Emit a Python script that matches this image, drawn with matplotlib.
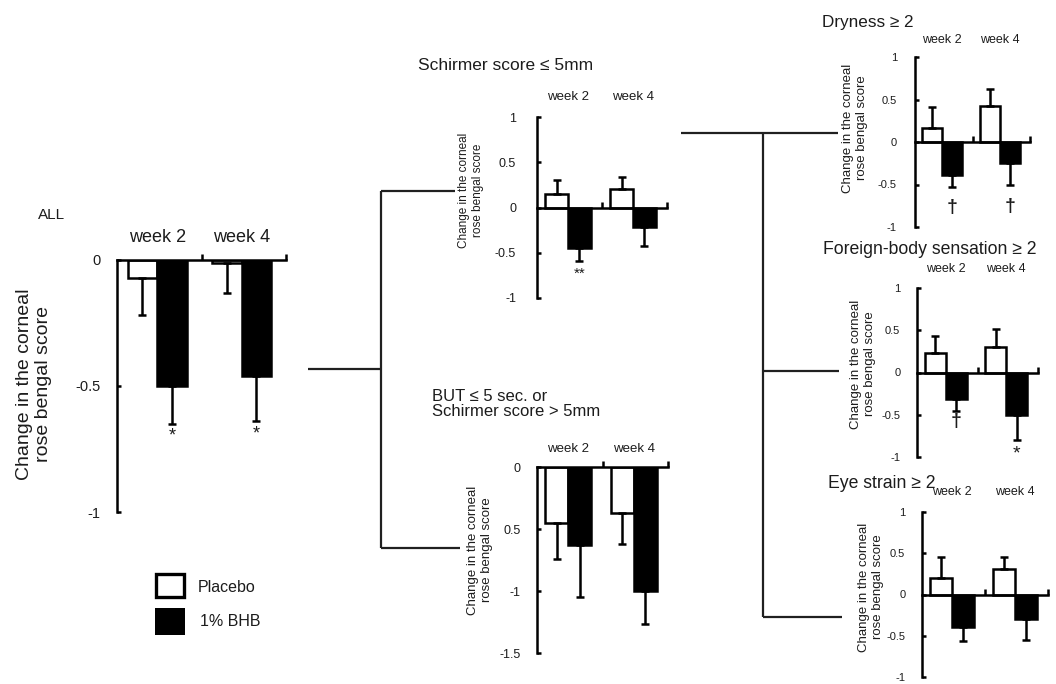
import matplotlib
matplotlib.use('Agg')
import matplotlib.pyplot as plt
import matplotlib.transforms as mtransforms
from matplotlib.lines import Line2D
from matplotlib.patches import Rectangle

W, H = 1056, 684
plt.rcParams['font.family'] = ['Liberation Sans', 'DejaVu Sans']
plt.rcParams['axes.unicode_minus'] = False
TXT = '#1c1c1c'

# ---------------- data ----------------
weeks = ['week 2', 'week 4']
groups = ['Placebo', '1% BHB']
ylabel = 'Change in the corneal\nrose bengal score'

all_title = 'ALL'
all_placebo = [-0.07, -0.01]
all_placebo_err = [0.15, 0.12]
all_bhb = [-0.50, -0.46]
all_bhb_err = [0.15, 0.18]
all_marks = ['*', '*']

schirmer_title = 'Schirmer score ≤ 5mm'
schirmer_placebo = [0.15, 0.20]
schirmer_placebo_err = [0.15, 0.14]
schirmer_bhb = [-0.45, -0.22]
schirmer_bhb_err = [0.14, 0.21]
schirmer_marks = ['**', '']

but_title = 'BUT ≤ 5 sec. or\nSchirmer score > 5mm'
but_placebo = [-0.45, -0.37]
but_placebo_err = [0.29, 0.25]
but_bhb = [-0.63, -1.00]
but_bhb_err = [0.42, 0.27]
but_marks = ['', '']
but_yticks = [0, -0.5, -1, -1.5]
but_yticklabels = ['0', '0.5', '-1', '-1.5']

dry_title = 'Dryness ≥ 2'
dry_placebo = [0.17, 0.42]
dry_placebo_err = [0.24, 0.20]
dry_bhb = [-0.39, -0.25]
dry_bhb_err = [0.14, 0.26]
dry_marks = ['†', '†']

fb_title = 'Foreign-body sensation ≥ 2'
fb_placebo = [0.23, 0.30]
fb_placebo_err = [0.20, 0.22]
fb_bhb = [-0.31, -0.50]
fb_bhb_err = [0.14, 0.30]
fb_marks = ['†', '*']

eye_title = 'Eye strain ≥ 2'
eye_placebo = [0.20, 0.31]
eye_placebo_err = [0.25, 0.15]
eye_bhb = [-0.39, -0.30]
eye_bhb_err = [0.17, 0.25]
eye_marks = ['', '']

sym_yticks = [1, 0.5, 0, -0.5, -1]
sym_yticklabels = ['1', '0.5', '0', '-0.5', '-1']
all_yticks = [0, -0.5, -1]
all_yticklabels = ['0', '-0.5', '-1']

# ---------------- figure ----------------
fig = plt.figure(figsize=(W / 100, H / 100), dpi=100)
fig.patch.set_facecolor('white')


def px_axes(x0, x1, ytop, ybot):
    return fig.add_axes([x0 / W, 1 - ybot / H, (x1 - x0) / W, (ybot - ytop) / H])


def ftext(x, y, s, **kw):
    kw.setdefault('color', TXT)
    fig.text(x / W, 1 - y / H, s, **kw)


def fline(xs, ys, lw=1.6):
    fig.add_artist(Line2D([x / W for x in xs], [1 - y / H for y in ys],
                          transform=fig.transFigure, color='#202020', lw=lw,
                          solid_capstyle='butt'))


XP = [0.6, 2.6]
XB = [1.3, 3.3]
BW = 0.7
LW = 1.8


def draw_panel(ax, placebo, placebo_err, bhb, bhb_err, marks, ylim, yticks,
               yticklabels, tick_fs, pad, week_fs, week_y, mark_fs, mark_off):
    ax.bar(XP, placebo, width=BW, facecolor='white', edgecolor='black',
           linewidth=LW, zorder=2)
    ax.bar(XB, bhb, width=BW, facecolor='black', edgecolor='black',
           linewidth=LW, zorder=2)
    for xs, vals, errs in ((XP, placebo, placebo_err), (XB, bhb, bhb_err)):
        lower = [e if v < 0 else 0 for v, e in zip(vals, errs)]
        upper = [e if v >= 0 else 0 for v, e in zip(vals, errs)]
        ax.errorbar(xs, vals, yerr=[lower, upper], fmt='none', ecolor='black',
                    elinewidth=LW, capsize=3, capthick=LW, zorder=3)
    for x, v, e, m in zip(XB, bhb, bhb_err, marks):
        if m:
            off = mark_off + (2 if m.startswith('*') else 0)
            ax.annotate(m, xy=(x, v - e), xytext=(0, -off),
                        textcoords='offset points', ha='center', va='center',
                        fontsize=mark_fs, color=TXT, annotation_clip=False,
                        fontweight='bold' if m == '†' else 'normal')
    ax.set_xlim(0, 4)
    ax.set_ylim(*ylim)
    for s in ('top', 'right'):
        ax.spines[s].set_visible(False)
    ax.spines['bottom'].set_position(('data', 0))
    ax.spines['bottom'].set_linewidth(LW)
    ax.spines['left'].set_linewidth(LW)
    ax.set_facecolor('none')
    ax.set_xticks([2, 4])
    ax.set_xticklabels([])
    ax.tick_params(axis='x', direction='in', length=4, width=LW)
    ax.set_yticks(yticks)
    ax.set_yticklabels(yticklabels)
    ax.tick_params(axis='y', direction='in', length=3, width=LW,
                   labelsize=tick_fs, pad=pad, labelcolor=TXT)
    trans = mtransforms.blended_transform_factory(ax.transData, fig.transFigure)
    for cx, wk in zip([0.95, 2.95], weeks):
        ax.text(cx, 1 - week_y / H, wk, transform=trans, ha='center',
                va='center', fontsize=week_fs, color=TXT)


# ALL panel
ax = px_axes(117, 286, 260, 512)
draw_panel(ax, all_placebo, all_placebo_err, all_bhb, all_bhb_err, all_marks,
           (-1, 0), all_yticks, all_yticklabels, 10.5, 12, 13, 237, 13, 7)
ftext(38, 215, all_title, fontsize=11, ha='left', va='center')
ftext(34, 384, ylabel, fontsize=14, rotation=90, ha='center', va='center',
      multialignment='center', linespacing=1.2)

# Schirmer panel
ax = px_axes(537, 667, 117, 298)
draw_panel(ax, schirmer_placebo, schirmer_placebo_err, schirmer_bhb,
           schirmer_bhb_err, schirmer_marks, (-1, 1), sym_yticks,
           sym_yticklabels, 9, 15, 9.5, 97, 11, 7)
ftext(418, 65, schirmer_title, fontsize=12.5, ha='left', va='center')
ftext(471, 190, ylabel, fontsize=8.5, rotation=90, ha='center', va='center',
      multialignment='center', linespacing=1.15)

# BUT panel
ax = px_axes(537, 668, 467, 653)
draw_panel(ax, but_placebo, but_placebo_err, but_bhb, but_bhb_err, but_marks,
           (-1.5, 0), but_yticks, but_yticklabels, 9, 12, 9.5, 449, 9, 6)
ftext(432, 404, but_title, fontsize=12, ha='left', va='center',
      linespacing=0.98)
ftext(480, 550, ylabel, fontsize=9.5, rotation=90, ha='center', va='center',
      multialignment='center', linespacing=1.15)

# Dryness panel
ax = px_axes(915, 1030, 57, 227)
draw_panel(ax, dry_placebo, dry_placebo_err, dry_bhb, dry_bhb_err, dry_marks,
           (-1, 1), sym_yticks, sym_yticklabels, 8, 13, 9, 40, 14, 15)
ftext(822, 22, dry_title, fontsize=12.3, ha='left', va='center')
ftext(855, 128, ylabel, fontsize=9.5, rotation=90, ha='center', va='center',
      multialignment='center', linespacing=1.2)

# Foreign-body panel
ax = px_axes(917, 1038, 288, 457)
draw_panel(ax, fb_placebo, fb_placebo_err, fb_bhb, fb_bhb_err, fb_marks,
           (-1, 1), sym_yticks, sym_yticklabels, 8, 12, 9, 269, 14, 8)
ftext(823, 249, fb_title, fontsize=12.7, ha='left', va='center')
ftext(863, 364, ylabel, fontsize=9.5, rotation=90, ha='center', va='center',
      multialignment='center', linespacing=1.2)

# Eye strain panel
ax = px_axes(922, 1048, 512, 677)
draw_panel(ax, eye_placebo, eye_placebo_err, eye_bhb, eye_bhb_err, eye_marks,
           (-1, 1), sym_yticks, sym_yticklabels, 8, 12, 9, 492, 12, 8)
ftext(828, 483, eye_title, fontsize=12.7, ha='left', va='center')
ftext(871, 587, ylabel, fontsize=9.5, rotation=90, ha='center', va='center',
      multialignment='center', linespacing=1.2)

# connector lines (tree)
fline([308, 381], [369, 369])
fline([381, 381], [191, 548])
fline([381, 455], [191, 191])
fline([381, 460], [548, 548])
fline([681, 838], [133, 133])
fline([763, 763], [133, 617])
fline([763, 839], [371, 371])
fline([763, 842], [617, 617])

# legend
fig.add_artist(Rectangle((156 / W, 1 - 597 / H), 28 / W, 23 / H,
                         transform=fig.transFigure, facecolor='white',
                         edgecolor='black', lw=2.4))
fig.add_artist(Rectangle((155 / W, 1 - 635 / H), 30 / W, 27 / H,
                         transform=fig.transFigure, facecolor='black',
                         edgecolor='black', lw=0))
ftext(198, 587, groups[0], fontsize=11.5, ha='left', va='center')
ftext(200, 622, groups[1], fontsize=11.5, ha='left', va='center')

fig.savefig('out.png', dpi=100, facecolor='white')
